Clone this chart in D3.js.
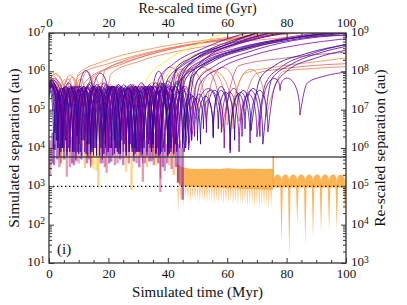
<!DOCTYPE html>
<meta charset="utf-8">
<style>
body { margin: 0; background: #fff; }
text { font-family: "Liberation Serif", "DejaVu Serif", serif; fill: #111; }
</style>
<svg width="407" height="305"></svg>
<script src="https://cdn.jsdelivr.net/npm/d3@7/dist/d3.min.js"></script>
<script>

// ---- data (time in Myr, separation as log10 au) ----

// plasma colour position of each trajectory
var trajColor = [0.62, 0.66, 0.68, 0.70, 0.72, 0.64,
                 0.60, 0.68, 0.55, 0.72,
                 0.93, 0.88, 0.97,
                 0.50, 0.55,
                 0.02, 0.06, 0.10, 0.15, 0.20, 0.26, 0.04, 0.08, 0.12, 0.18, 0.24, 0.32, 0.40, 0.05, 0.10, 0.22,
                 0.15, 0.25, 0.08, 0.20, 0.03];

// pericentre passages [t, log sep]; first entry is the start point
var trajDips = [
  [[0,5.5],[4,4.6],[9,4.3]],
  [[0,5.6],[5,4.2],[11,4.0]],
  [[0,5.45],[6.5,4.4]],
  [[0,5.6],[3,4.5],[8,4.1],[13,4.3],[18,4.0]],
  [[0,5.55],[7,4.0]],
  [[0,5.5],[4,4.3],[10,4.5],[16,4.2]],
  [[0,5.5],[6,4.2],[13,4.0],[20,4.3],[27,3.9],[34,4.2],[41,4.0],[53,4.6],[64,4.7]],
  [[0,5.4],[5,4.0],[11,4.2],[17,3.9],[24,4.1],[31,4.0],[38,4.3],[50,4.7],[62,4.5],[73,4.8]],
  [[0,5.6],[7,4.1],[14,3.9],[21,4.2],[28,4.0],[35,3.9],[46,4.5],[58,4.4]],
  [[0,5.5],[5.5,4.1],[12,4.0],[18.5,4.3],[25,3.9],[32,4.1],[39,4.0],[47,4.2],[60,4.6]],
  [[0,5.5],[5,3.9],[11,4.2],[17,3.6],[24,4.0],[30,3.8],[36,4.1]],
  [[0,5.6],[6,4.0],[12,3.8],[19,4.2],[26,3.7],[33,4.0],[40,3.9],[45,4.1]],
  [[0,5.45],[4,4.2],[9,4.0],[14,3.7],[19,4.1],[25,3.9],[30,4.3]],
  [[0,5.5],[4,3.6],[9,3.9],[14,3.5],[20,4.0],[26,3.8],[31.5,3.6],[37.5,3.2],[42,3.8]],
  [[0,5.4],[6,3.8],[12,4.1],[18,3.7],[24,3.9],[30,4.1],[35,3.7],[40,3.9]],
  [[0,5.55],[3,4.0],[7,3.9],[11.5,4.2],[16,3.8],[21,4.0],[26,3.9],[31,4.1],[36,3.85],[41,4.0]],
  [[0,5.4],[2.5,4.2],[6,3.8],[10,4.1],[14.5,3.9],[19,4.3],[23.5,3.85],[28,4.0],[33,3.9],[38,4.2],[43,3.9]],
  [[0,5.6],[4,3.9],[9,4.1],[16,3.85],[21,4.0],[26,3.8],[32,4.2],[37,3.95]],
  [[0,5.5],[5,4.3],[9.5,3.9],[13.5,4.1],[21.5,3.8],[26,4.2],[30.5,3.9],[35,4.0],[40,3.8],[45,4.1]],
  [[0,5.45],[3.5,3.8],[8,4.0],[12,3.9],[17,4.2],[22,3.85],[27.5,4.1],[33,3.8],[38.5,4.0]],
  [[0,5.6],[2,4.4],[6.5,4.0],[11,3.8],[15,4.3],[19.5,3.9],[24,4.0],[29,3.85],[34,4.2],[39,3.9],[44,4.0],[48,4.2]],
  [[0,5.5],[4.5,4.1],[10,3.85],[15.5,4.0],[20,3.9],[25,4.3],[30,3.9],[35,4.1],[40.5,3.85],[46,4.0]],
  [[0,5.35],[1.5,4.0],[5.5,4.2],[10.5,3.9],[15,4.0],[18.5,4.4],[23,3.9],[27,4.1],[31.5,3.85],[36,4.0],[41,3.9]],
  [[0,5.58],[6,3.9],[11,4.2],[17,3.8],[22.5,4.0],[28,3.9],[34,4.1],[40,3.9]],
  [[0,5.5],[3,4.0],[8.5,3.9],[13,4.2],[18,3.9],[23,4.0],[28.5,3.8],[33.5,4.1],[38,3.9],[43,4.2],[47,3.95]],
  [[0,5.42],[5,4.0],[10,4.3],[14,3.85],[19,4.0],[24.5,4.2],[29,3.9],[34,4.0]],
  [[0,5.55],[3.5,4.1],[9,3.7],[14,4.0],[19.5,3.8],[25,4.1],[31,3.9],[37,3.8],[42,4.0]],
  [[0,5.5],[6,3.8],[12,4.0],[18,3.7],[24,3.9],[30,4.1],[36,3.75],[41,3.9]],
  [[0,5.3],[2,3.95],[7,4.1],[12.5,3.85],[17.5,4.0],[22,4.2],[27,3.9],[32,4.0],[37.5,3.85],[42.5,4.1]],
  [[0,5.48],[4,4.0],[8,3.9],[13,4.1],[18,3.8],[22.5,4.0],[27,3.9],[31,4.2],[36,3.85],[41,4.0],[45.5,3.9]],
  [[0,5.62],[7,4.0],[13,3.8],[19,4.1],[25,3.9],[31,4.0],[37,3.8],[43,4.0]],
  [[0,5.5],[5,3.9],[10,4.1],[15,3.8],[20.5,4.0],[26,3.9],[31,4.2],[36,3.9],[41,4.0],[47,4.1],[52,4.5],[55.3,4.26],[61,3.87],[67.7,4.13],[73.7,4.42]],
  [[0,5.4],[4,4.1],[9,3.85],[14.5,4.0],[20,3.9],[25.5,4.1],[31,3.8],[36.5,4.0],[42,3.9],[49,4.3],[58.1,4.42],[64,3.9],[70,4.29]],
  [[0,5.52],[3,4.2],[8,3.9],[13,4.1],[18.5,3.85],[24,4.0],[29.5,3.9],[35,4.1],[40,3.8],[45,4.0],[50,4.2],[55.3,4.3],[61,3.95],[66,4.5],[72,4.1]],
  [[0,5.45],[6,3.9],[12,4.2],[18,3.85],[24,4.0],[30,3.9],[36,4.1],[42,3.85],[48,4.2],[53,4.4],[59,4.0],[65,4.3],[71,4.3],[77.8,5.5],[84.5,4.86]],
  [[0,5.6],[4.5,4.0],[9.5,4.3],[14,3.9],[19,4.1],[24,3.85],[29,4.0],[34.5,3.9],[40,4.0],[46,4.3],[51,4.1],[57,4.5],[62.5,4.2],[68,4.45]]
];

// apocentre heights between consecutive dips
var trajPeaks = [
  [5.75,5.8],
  [5.8,5.85],
  [5.9],
  [5.7,5.78,5.8,5.85],
  [5.85],
  [5.65,5.9,6.0],
  [5.6,5.65,5.6,5.65,5.6,5.7,6.05,6.1],
  [5.55,5.6,5.55,5.65,5.6,5.7,6.05,6.0,6.05],
  [5.65,5.6,5.7,5.6,5.65,6.1,6.1],
  [5.6,5.65,5.6,5.6,5.65,5.6,5.9,6.05],
  [5.55,5.6,5.55,5.6,5.5,5.6],
  [5.6,5.5,5.65,5.6,5.6,5.7,5.6],
  [5.5,5.55,5.5,5.55,5.6,5.55],
  [5.5,5.55,5.5,5.6,5.5,5.55,5.5,5.6],
  [5.5,5.6,5.5,5.55,5.6,5.5,5.6],
  [5.6,5.55,5.6,5.65,5.55,5.6,5.5,5.6,5.65],
  [5.5,5.55,5.6,5.5,5.6,5.55,5.6,5.5,5.6,5.6],
  [5.65,5.7,6.02,5.7,5.65,5.6,5.6],
  [5.55,5.5,5.6,5.95,5.55,5.6,5.55,5.65,5.6],
  [5.5,5.6,5.55,5.6,5.65,5.55,5.6,5.7],
  [5.62,5.55,5.5,5.6,5.55,5.6,5.55,5.6,5.5,5.6,5.55],
  [5.6,5.6,5.55,5.5,5.6,5.65,5.6,5.7,5.75],
  [5.4,5.5,5.55,5.6,5.5,5.6,5.55,5.6,5.65,5.7],
  [5.65,5.6,5.7,5.6,5.65,5.7,6.0],
  [5.55,5.6,5.55,5.6,5.6,5.55,5.6,5.6,5.55,5.6],
  [5.5,5.6,5.55,5.6,5.6,5.55,5.6],
  [5.6,5.5,5.55,5.6,5.5,5.6,5.55,5.6],
  [5.55,5.6,5.5,5.6,5.55,5.6,5.6],
  [5.45,5.55,5.5,5.6,5.55,5.6,5.55,5.6,5.65],
  [5.5,5.55,5.6,5.55,5.6,5.5,5.6,5.55,5.6,5.7],
  [5.7,5.6,5.65,5.6,5.65,5.6,5.75],
  [5.55,5.6,5.5,5.6,5.55,5.6,5.55,5.6,5.45,5.3,5.25,5.5,5.45,5.5],
  [5.5,5.55,5.6,5.5,5.6,5.55,5.6,5.55,5.6,5.55,5.45,5.4],
  [5.55,5.6,5.55,5.6,5.6,5.55,5.6,5.5,5.6,5.4,5.35,5.6,5.4,5.55],
  [5.5,5.6,5.55,5.6,5.55,5.6,5.55,5.5,5.4,5.5,5.55,5.5,5.75,5.8],
  [5.62,5.55,5.6,5.55,5.6,5.6,5.55,5.6,5.45,5.35,5.5,5.45,5.5]
];

// unbound part after the last dip
var trajEscape = [
  [[12,5.7],[20,6.1],[35,6.5],[55,6.8],[80,7.0],[100,7.15]],
  [[14,5.8],[25,6.2],[45,6.65],[70,6.9],[100,7.1]],
  [[10,5.9],[20,6.2],[40,6.6],[65,6.85],[90,7.05]],
  [[21,5.95],[30,6.25],[50,6.62],[75,6.85],[100,7.0]],
  [[10,5.95],[18,6.25],[35,6.6],[60,6.88],[85,7.05]],
  [[19,6.05],[28,6.3],[48,6.7],[72,6.95],[95,7.1]],
  [[70,5.95],[80,6.08],[100,6.2]],
  [[79,6.0],[90,6.08],[100,6.12]],
  [[64,6.15],[80,6.35],[100,6.5]],
  [[66,5.95],[75,6.1],[90,6.25],[100,6.35]],
  [[39,5.8],[44,6.2],[55,6.6],[66,6.95],[74,7.15]],
  [[48,5.85],[55,6.25],[70,6.65],[88,6.95],[100,7.05]],
  [[33,5.8],[40,6.3],[50,6.7],[62,7.1]],
  [[45,5.8],[50,6.2],[60,6.6],[75,6.95],[85,7.15]],
  [[43,5.85],[49,6.3],[60,6.7],[72,7.05]],
  [[44,5.75],[50,6.1],[62,6.5],[80,6.8],[100,7.0]],
  [[46,5.8],[52,6.2],[65,6.6],[85,6.9],[100,7.05]],
  [[40,5.8],[45,6.15],[55,6.5],[70,6.85],[88,7.1]],
  [[48,5.85],[55,6.25],[68,6.6],[85,6.9],[100,7.0]],
  [[42,5.9],[47,6.3],[58,6.65],[72,6.95],[82,7.15]],
  [[51,5.7],[58,6.1],[70,6.45],[85,6.7],[100,6.85]],
  [[49,5.9],[55,6.3],[66,6.6],[80,6.85],[100,7.05]],
  [[44,5.9],[48,6.25],[58,6.6],[72,6.9],[90,7.1]],
  [[43,6.1],[48,6.35],[58,6.7],[70,7.0],[78,7.15]],
  [[50,5.75],[56,6.15],[67,6.5],[82,6.8],[100,6.95]],
  [[37,5.8],[42,6.2],[52,6.6],[62,6.9],[72,7.1]],
  [[45,5.8],[51,6.2],[62,6.55],[78,6.85],[95,7.05]],
  [[44,5.85],[50,6.3],[60,6.65],[75,6.95],[88,7.12]],
  [[45,5.9],[49,6.3],[58,6.65],[68,6.95],[76,7.15]],
  [[48,5.9],[53,6.35],[62,6.7],[74,7.0],[82,7.15]],
  [[46,5.95],[52,6.3],[63,6.6],[80,6.85],[100,6.95]],
  [[76,5.6],[80,6.0],[90,6.35],[100,6.55]],
  [[73,5.7],[78,6.1],[88,6.45],[100,6.7]],
  [[75,5.8],[82,6.2],[92,6.5],[100,6.65]],
  [[87,5.7],[93,5.88],[100,5.98]],
  [[71,5.8],[76,6.15],[86,6.45],[100,6.7]]
];

// fast-oscillation bars before 45 Myr: time, top and bottom (log sep), colour
var barT = [0.4,1.2,1.7,2.8,3.5,4.3,5.1,6.0,7.0,7.8,
            8.4,9.2,10.0,10.9,12.1,12.8,13.5,14.3,15.0,16.0,
            16.6,17.3,18.0,18.8,19.4,20.3,21.0,22.2,23.1,24.0,
            25.0,26.0,26.9,27.8,28.6,29.5,30.4,31.6,32.3,33.0,
            33.8,34.5,35.3,36.0,36.8,37.5,38.3,39.0,39.8,40.5,
            41.3,42.0,42.8,43.5,44.2,45.0];
var barTop = [4.2,4.4,4.1,4.3,4.5,4.2,4.3,4.4,4.1,4.3,
              4.5,4.2,4.3,4.1,4.4,4.2,4.5,4.3,4.2,4.4,
              4.1,4.3,4.4,4.2,4.5,4.3,4.1,4.4,4.2,4.3,
              4.5,4.2,4.3,4.1,4.4,4.2,4.5,4.3,4.2,4.4,
              4.1,4.3,4.4,4.2,4.5,4.3,4.2,4.4,4.1,4.3,
              4.2,4.4,4.3,4.1,4.2,4.0];
var barLow = [3.3,3.6,3.55,3.7,3.5,3.65,3.7,3.25,3.5,3.6,
              3.55,3.65,3.6,3.7,3.48,3.6,3.7,3.55,3.45,3.4,
              3.03,3.6,3.6,3.5,3.35,3.6,3.65,3.55,3.6,3.7,
              3.55,3.38,3.6,2.9,3.65,3.6,3.5,3.12,3.6,3.5,
              3.65,3.65,3.55,3.55,3.6,2.85,3.5,3.4,3.6,3.55,
              3.45,3.3,3.5,3.1,3.0,2.65];
var barC = [0.45,0.2,0.3,0.15,0.5,0.92,0.1,0.55,0.5,0.25,
            0.3,0.4,0.6,0.2,0.8,0.35,0.35,0.5,0.93,0.9,
            0.82,0.3,0.4,0.45,0.55,0.15,0.3,0.45,0.5,0.2,
            0.35,0.85,0.4,0.82,0.2,0.5,0.3,0.52,0.4,0.8,
            0.25,0.35,0.45,0.9,0.3,0.5,0.2,0.45,0.35,0.8,
            0.4,0.75,0.3,0.15,0.5,0.2];

// trapped binary, 43-75.5 Myr: envelope of the dense band
var bandT   = [43,45,47.5,50,52.5,55,57.5,60,62.5,65,67.5,70,72.5,75.5];
var bandTop = [3.6,3.5,3.46,3.45,3.46,3.46,3.45,3.47,3.46,3.45,3.46,3.46,3.45,3.46];
var bandBot = [3.1,3.0,2.98,2.98,2.97,2.97,2.96,2.95,2.95,2.94,2.93,2.93,2.92,2.92];
// comb of pericentre dips under the band
var combT   = [43.5,44.3,45.2,46,46.8,47.6,48.4,49.2,50,50.8,51.6,52.4,53.2,54,54.8,55.6,56.4,57.2,58,58.8,59.6,60.4,61.2,62,62.8,63.6,64.4,65.2,66,66.8,67.6,68.4,69.2,70,70.8,71.6,72.4,73.2,74,74.8];
var combLow = [2.3,2.6,2.45,2.7,2.62,2.55,2.68,2.6,2.64,2.57,2.66,2.6,2.55,2.63,2.58,2.5,2.62,2.56,2.6,2.52,2.58,2.55,2.6,2.48,2.56,2.52,2.58,2.5,2.55,2.45,2.53,2.48,2.42,2.5,2.4,2.47,2.43,2.5,2.4,2.45];

// trapped binary after 75.5 Myr: scallop boundaries and the depth of each dip
var scallopT   = [75.6,78.3,80.9,83.6,86.3,88.9,91.6,94.3,96.9,99.6,102.3];
var scallopLow = [3.0,1.51,1.18,2.0,1.47,1.66,1.77,1.84,1.86,2.38,2.4];
var scallopTop = 3.31, scallopJoin = 3.13, scallopBase = 2.97;

var wideLimit = 3.765;   // solid line
var hardLimit = 3;       // dotted line

// ---- chart ----
var svg = d3.select("svg");
var pL = 49, pR = 346, pT = 33, pB = 263;

var x = d3.scaleLinear().domain([0, 100]).range([pL, pR]);
var y = d3.scaleLog().domain([1e1, 1e7]).range([pB, pT]);
var yR = d3.scaleLog().domain([1e3, 1e9]).range([pB, pT]);
function ly(v) { return y(Math.pow(10, v)); }
function col(c) { return d3.interpolatePlasma(c); }

svg.append("defs").append("clipPath").attr("id", "clip")
  .append("rect").attr("x", pL).attr("y", pT)
  .attr("width", pR - pL).attr("height", pB - pT);

var plot = svg.append("g").attr("clip-path", "url(#clip)");

// trapped binary: band
var orange = col(0.8);
var bandArea = d3.area()
  .x(function(d, i) { return x(bandT[i]); })
  .y0(function(d, i) { return ly(bandBot[i]); })
  .y1(function(d, i) { return ly(bandTop[i]); });
plot.append("path").attr("d", bandArea(bandT))
  .attr("fill", orange).attr("fill-opacity", 0.85);

combT.forEach(function(t, i) {
  var p = d3.path();
  p.moveTo(x(t - 0.35), ly(2.97));
  p.lineTo(x(t), ly(combLow[i]));
  p.lineTo(x(t + 0.35), ly(2.97));
  p.closePath();
  plot.append("path").attr("d", p.toString())
    .attr("fill", orange).attr("fill-opacity", 0.55);
});

// jump at 75.5 Myr
plot.append("line")
  .attr("x1", x(75.5)).attr("x2", x(75.5))
  .attr("y1", ly(3.0)).attr("y2", ly(3.8))
  .attr("stroke", orange).attr("stroke-width", 1.4);

// scallops
for (var k = 0; k < scallopT.length - 1; k++) {
  var t0 = scallopT[k], t1 = scallopT[k + 1];
  var x0 = x(t0), x1 = x(t1), yj = ly(scallopJoin), yp = ly(scallopTop);
  var yc = (yp - 0.25 * yj) / 0.75;
  var p = d3.path();
  p.moveTo(x0, ly(scallopBase));
  p.lineTo(x0, yj);
  p.bezierCurveTo(x0, yc, x1, yc, x1, yj);
  p.lineTo(x1, ly(scallopBase));
  p.closePath();
  plot.append("path").attr("d", p.toString())
    .attr("fill", orange).attr("fill-opacity", 0.85);
}
scallopT.forEach(function(t, i) {
  if (i === 0) return;
  var p = d3.path();
  p.moveTo(x(t - 0.45), ly(3.05));
  p.lineTo(x(t), ly(scallopLow[i]));
  p.lineTo(x(t + 0.45), ly(3.05));
  p.closePath();
  plot.append("path").attr("d", p.toString())
    .attr("fill", orange).attr("fill-opacity", 0.8);
});

// fast-oscillation bars
barT.forEach(function(t, i) {
  plot.append("line")
    .attr("x1", x(t)).attr("x2", x(t))
    .attr("y1", ly(barTop[i])).attr("y2", ly(barLow[i]))
    .attr("stroke", col(barC[i])).attr("stroke-width", 2.4)
    .attr("stroke-opacity", 0.55);
});

// trajectories
var escLine = d3.line()
  .x(function(d) { return x(d[0]); })
  .y(function(d) { return ly(d[1]); })
  .curve(d3.curveMonotoneX);

trajDips.forEach(function(dips, i) {
  var p = d3.path();
  p.moveTo(x(dips[0][0]), ly(dips[0][1]));
  for (var k = 1; k < dips.length; k++) {
    var a = dips[k - 1], b = dips[k];
    var x0 = x(a[0]), y0 = ly(a[1]), x1 = x(b[0]), y1 = ly(b[1]);
    var yc = (ly(trajPeaks[i][k - 1]) - 0.125 * (y0 + y1)) / 0.75;
    p.bezierCurveTo(x0, yc, x1, yc, x1, y1);
  }
  var d = p.toString();
  if (trajEscape[i]) d += escLine([dips[dips.length - 1]].concat(trajEscape[i]));
  plot.append("path").attr("d", d)
    .attr("fill", "none")
    .attr("stroke", col(trajColor[i]))
    .attr("stroke-width", 1)
    .attr("stroke-opacity", 0.8);
});

// reference separations
svg.append("line")
  .attr("x1", pL).attr("x2", pR)
  .attr("y1", ly(wideLimit)).attr("y2", ly(wideLimit))
  .attr("stroke", "#333").attr("stroke-width", 1.3).attr("stroke-opacity", 0.85);
svg.append("line")
  .attr("x1", pL).attr("x2", pR)
  .attr("y1", ly(hardLimit)).attr("y2", ly(hardLimit))
  .attr("stroke", "#000").attr("stroke-width", 1.4)
  .attr("stroke-dasharray", "1.4,2.6");

// ---- axes ----
function decades(lo, hi) { var a = []; for (var e = lo; e <= hi; e++) a.push(Math.pow(10, e)); return a; }
function minors(lo, hi) { var a = []; for (var e = lo; e < hi; e++) for (var m = 2; m < 10; m++) a.push(m * Math.pow(10, e)); return a; }
function supLabels(sel) {
  sel.selectAll(".tick text").attr("dy", "0.2em").each(function(d) {
    var t = d3.select(this), e = Math.round(Math.log10(d));
    t.text("");
    t.append("tspan").text("10");
    t.append("tspan").attr("dy", "-0.38em").attr("font-size", "9.5px").text(e);
  });
}
function style(g) {
  g.select(".domain").remove();
  g.selectAll(".tick line").attr("stroke", "#333");
  g.selectAll(".tick text").attr("font-family", "Liberation Serif, serif").attr("font-size", "13px").attr("fill", "#111");
}

var xTicks = [0, 20, 40, 60, 80, 100];
var xMinor = [5,10,15,25,30,35,45,50,55,65,70,75,85,90,95];

var gb = svg.append("g").attr("transform", "translate(0," + pB + ")")
  .call(d3.axisBottom(x).tickValues(xTicks).tickSize(-5).tickPadding(6).tickFormat(d3.format("d")));
style(gb);
svg.append("g").attr("transform", "translate(0," + pB + ")")
  .call(d3.axisBottom(x).tickValues(xMinor).tickSize(-3).tickFormat("")).call(style);

var gt = svg.append("g").attr("transform", "translate(0," + pT + ")")
  .call(d3.axisTop(x).tickValues(xTicks).tickSize(-5).tickPadding(6).tickFormat(d3.format("d")));
style(gt);
svg.append("g").attr("transform", "translate(0," + pT + ")")
  .call(d3.axisTop(x).tickValues(xMinor).tickSize(-3).tickFormat("")).call(style);

var gl = svg.append("g").attr("transform", "translate(" + pL + ",0)")
  .call(d3.axisLeft(y).tickValues(decades(1, 7)).tickSize(-5).tickPadding(4));
style(gl); supLabels(gl);
svg.append("g").attr("transform", "translate(" + pL + ",0)")
  .call(d3.axisLeft(y).tickValues(minors(1, 7)).tickSize(-3).tickFormat("")).call(style);

var gr = svg.append("g").attr("transform", "translate(" + pR + ",0)")
  .call(d3.axisRight(yR).tickValues(decades(3, 9)).tickSize(-5).tickPadding(5));
style(gr); supLabels(gr);
svg.append("g").attr("transform", "translate(" + pR + ",0)")
  .call(d3.axisRight(yR).tickValues(minors(3, 9)).tickSize(-3).tickFormat("")).call(style);

svg.append("rect")
  .attr("x", pL).attr("y", pT)
  .attr("width", pR - pL).attr("height", pB - pT)
  .attr("fill", "none").attr("stroke", "#333").attr("stroke-width", 1.3);

// ---- titles ----
svg.append("text").attr("x", (pL + pR) / 2).attr("y", 12.5)
  .attr("text-anchor", "middle").attr("font-size", "14px").text("Re-scaled time (Gyr)");
svg.append("text").attr("x", (pL + pR) / 2).attr("y", 297)
  .attr("text-anchor", "middle").attr("font-size", "15px").text("Simulated time (Myr)");
svg.append("text").attr("transform", "translate(19," + (pT + pB) / 2 + ") rotate(-90)")
  .attr("text-anchor", "middle").attr("font-size", "15.5px").text("Simulated separation (au)");
svg.append("text").attr("transform", "translate(385," + (pT + pB) / 2 + ") rotate(-90)")
  .attr("text-anchor", "middle").attr("font-size", "15.5px").text("Re-scaled separation (au)");
svg.append("text").attr("x", 57).attr("y", 254)
  .attr("font-size", "15px").text("(i)");

</script>
